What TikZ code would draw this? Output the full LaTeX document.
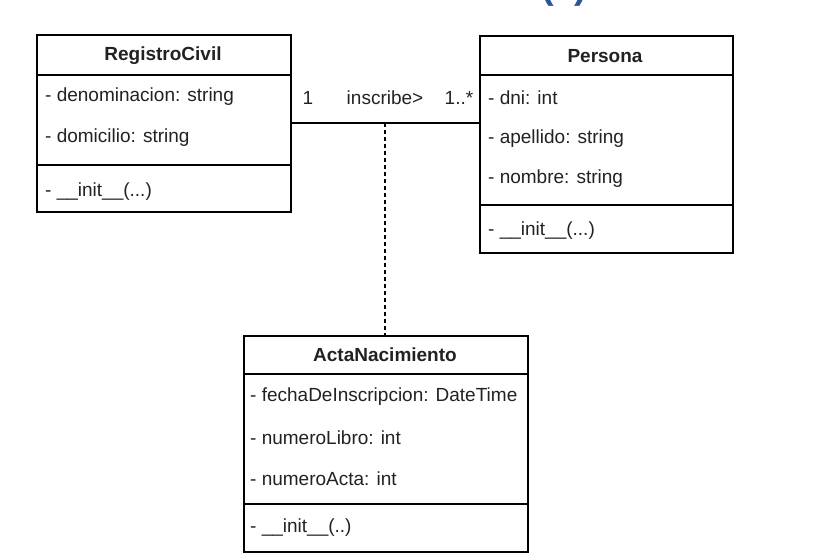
\documentclass[tikz,border=0pt]{standalone}
\usepackage{fontspec}
\setmainfont{Liberation Sans}
\begin{document}
\begin{tikzpicture}[x=1pt,y=-1pt,
  classbox/.style={draw=black, line width=1.5pt, fill=white, anchor=north west, inner sep=0pt},
  divline/.style={draw=black, line width=1.5pt},
  ctitle/.style={inner sep=0pt, font=\fontsize{19}{23}\selectfont\bfseries, text=txt},
  attr/.style={inner sep=0pt, anchor=west, font=\fontsize{19}{23}\selectfont, text=txt},
  lbl/.style={inner sep=0pt, font=\fontsize{19}{23}\selectfont, text=txt},
  assoc/.style={draw=black, line width=1.5pt},
  dashline/.style={draw=black, line width=1.5pt, dash pattern=on 4pt off 3pt}]
\definecolor{txt}{HTML}{222222}
\definecolor{ttlblue}{HTML}{2B5797}
\useasboundingbox (0,0) rectangle (831,560);
\begin{scope}
\clip (0,0) rectangle (831,560);
\node[inner sep=0pt, anchor=base west, font=\fontsize{38}{44}\selectfont\bfseries, text=ttlblue] (fig) at (541,-2) {(a)};
\end{scope}
% RegistroCivil
\node[classbox, minimum width=254pt, minimum height=177pt] (rc) at (36,34) {};
\draw[divline] (36,75) -- (290,75);
\draw[divline] (36,165) -- (290,165);
\node[ctitle] (rct) at (163,56) {RegistroCivil};
\node[attr] (rc1) at (45,97) {- denominacion: string};
\node[attr] (rc2) at (45,138) {- domicilio: string};
\node[attr] (rc3) at (45,192) {- \_\_init\_\_(...)};
% Persona
\node[classbox, minimum width=253pt, minimum height=217pt] (pe) at (479,35) {};
\draw[divline] (479,75) -- (732,75);
\draw[divline] (479,205) -- (732,205);
\node[ctitle] (pet) at (605,56) {Persona};
\node[attr] (pe1) at (488,98) {- dni: int};
\node[attr] (pe2) at (488,139) {- apellido: string};
\node[attr] (pe3) at (488,179) {- nombre: string};
\node[attr] (pe4) at (488,231) {- \_\_init\_\_(...)};
% ActaNacimiento
\node[classbox, minimum width=284pt, minimum height=216pt] (an) at (243,335) {};
\draw[divline] (243,374) -- (527,374);
\draw[divline] (243,504) -- (527,504);
\node[ctitle] (ant) at (385,355) {ActaNacimiento};
\node[attr] (an1) at (250,397) {- fechaDeInscripcion: DateTime};
\node[attr] (an2) at (250,438) {- numeroLibro: int};
\node[attr] (an3) at (250,479) {- numeroActa: int};
\node[attr] (an4) at (250,528) {- \_\_init\_\_(..)};
% association
\coordinate (a1) at (290,123);
\coordinate (mid) at (385,123);
\draw[assoc] (a1) -- (a1 -| pe.west);
\draw[dashline] (mid) -- (mid |- an.north);
\node[lbl] (m1) at (308,98) {1};
\node[lbl] (asn) at (385,98) {inscribe>};
\node[lbl] (m2) at (459,98) {1..*};
\end{tikzpicture}
\end{document}
